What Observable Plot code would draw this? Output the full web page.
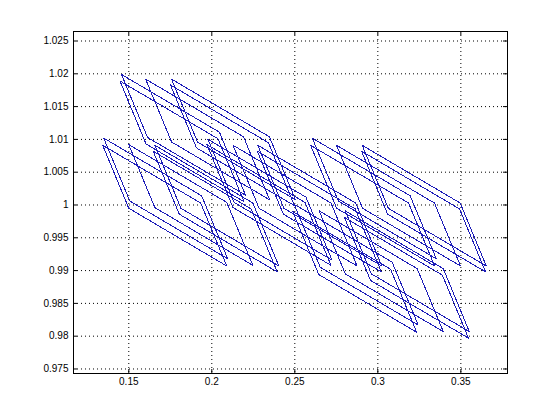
<!DOCTYPE html>
<html>
<head>
<meta charset="utf-8">
<script src="https://cdn.jsdelivr.net/npm/d3@7"></script>
<script src="https://cdn.jsdelivr.net/npm/@observablehq/plot@0.6"></script>
<style>
  html, body { margin: 0; padding: 0; background: #fff; }
  #chart { width: 560px; height: 419px; }
</style>
</head>
<body>
<div id="chart"></div>
<script>
// Tick values and labels
const xTicks = [0.15, 0.2, 0.25, 0.3, 0.35];
const xTickLabels = ["0.15", "0.2", "0.25", "0.3", "0.35"];
const yTicks = [0.975, 0.98, 0.985, 0.99, 0.995, 1.0, 1.005, 1.01, 1.015, 1.02, 1.025];
const yTickLabels = ["0.975", "0.98", "0.985", "0.99", "0.995", "1", "1.005", "1.01", "1.015", "1.02", "1.025"];

// Top-left (acute) corner of each parallelogram
const cornerX = [
  0.1456, 0.1447, 0.1601, 0.1757, 0.1751,
  0.1349, 0.1343, 0.1500, 0.1657, 0.1647,
  0.1977, 0.1971, 0.2128, 0.2277, 0.2274,
  0.2605, 0.2595, 0.2751, 0.2906, 0.2902,
  0.2496, 0.2487, 0.2647, 0.2804, 0.2799
];
const cornerY = [
  1.0199, 1.0189, 1.0192, 1.0192, 1.0183,
  1.0102, 1.0091, 1.0092, 1.0091, 1.0082,
  1.0100, 1.0092, 1.0091, 1.0091, 1.0082,
  1.0102, 1.0091, 1.0091, 1.0091, 1.0082,
  1.0001, 0.9990, 0.9991, 0.9991, 0.9981
];
// Edge vectors of the parallelograms (shallow edge and steep edge)
const shallowEdge = [0.0590, -0.0088];
const steepEdge = [0.0157, -0.0096];

const pts = [];
cornerX.forEach((x0, i) => {
  const y0 = cornerY[i];
  const verts = [
    [x0, y0],
    [x0 + shallowEdge[0], y0 + shallowEdge[1]],
    [x0 + shallowEdge[0] + steepEdge[0], y0 + shallowEdge[1] + steepEdge[1]],
    [x0 + steepEdge[0], y0 + steepEdge[1]],
    [x0, y0]
  ];
  verts.forEach(([x, y]) => pts.push({id: i, x, y}));
});

const W = 560, H = 419;
const mL = 73, mR = 53, mT = 31, mB = 46;
const plotW = W - mL - mR, plotH = H - mT - mB;
const tickLen = 4;

const chart = Plot.plot({
  width: W,
  height: H,
  marginLeft: mL,
  marginRight: mR,
  marginTop: mT,
  marginBottom: mB,
  style: {fontFamily: "'Liberation Sans', Arial, Helvetica, sans-serif", fontSize: "10px", background: "#fff", color: "#000"},
  x: {domain: [0.1167, 0.3781]},
  y: {domain: [0.97431, 1.02645]},
  marks: [
    Plot.gridX(xTicks, {stroke: "#000", strokeOpacity: 1, strokeDasharray: "1,3"}),
    Plot.gridY(yTicks, {stroke: "#000", strokeOpacity: 1, strokeDasharray: "1,3"}),
    Plot.line(pts, {x: "x", y: "y", z: "id", stroke: "#1c1cb8", strokeWidth: 1, curve: "linear", shapeRendering: "crispEdges"}),
    Plot.tickX(xTicks, {x: d => d, insetTop: plotH - tickLen, stroke: "#000"}),
    Plot.tickX(xTicks, {x: d => d, insetBottom: plotH - tickLen, stroke: "#000"}),
    Plot.tickY(yTicks, {y: d => d, insetRight: plotW - tickLen, stroke: "#000"}),
    Plot.tickY(yTicks, {y: d => d, insetLeft: plotW - tickLen, stroke: "#000"}),
    Plot.frame({stroke: "#000"}),
    Plot.axisX(xTicks, {tickSize: 0, tickPadding: 4, tickFormat: (d, i) => xTickLabels[i], label: null, fontSize: 10}),
    Plot.axisY(yTicks, {tickSize: 0, tickPadding: 5, tickFormat: (d, i) => yTickLabels[i], label: null, fontSize: 10})
  ]
});
document.getElementById("chart").appendChild(chart);
</script>
</body>
</html>
